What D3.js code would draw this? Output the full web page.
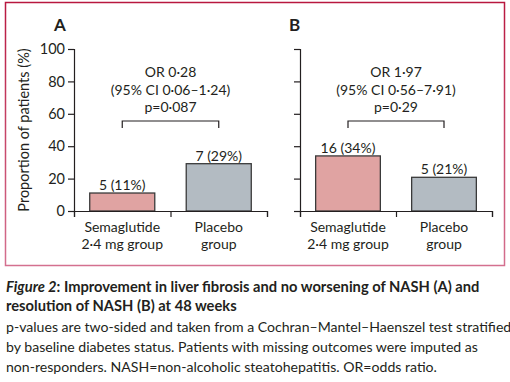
<!DOCTYPE html>
<html><head><meta charset="utf-8">
<script src="https://cdn.jsdelivr.net/npm/d3@7"></script>
<style>
html,body{margin:0;padding:0;background:#fff;}
svg{display:block;}
text{font-family:Lato,"Open Sans",sans-serif;fill:#231f20;}
</style></head>
<body>
<script>
// ---- data ----
const categories = ["Semaglutide 2·4 mg group", "Placebo group"];
const categoryLines = [["Semaglutide", "2·4 mg group"], ["Placebo", "group"]];
const panelIds = ["A", "B"];
const valuesA = [11.1, 29.2];
const valuesB = [34.0, 20.8];
const barLabelsA = ["5 (11%)", "7 (29%)"];
const barLabelsB = ["16 (34%)", "5 (21%)"];
const statsA = ["OR 0·28", "(95% CI 0·06–1·24)", "p=0·087"];
const statsB = ["OR 1·97", "(95% CI 0·56–7·91)", "p=0·29"];
const yTicks = [0, 20, 40, 60, 80, 100];
const yTitle = "Proportion of patients (%)";
const captionTitleItalic = "Figure 2";
const captionTitle = [": Improvement in liver fibrosis and no worsening of NASH (A) and", "resolution of NASH (B) at 48 weeks"];
const captionBody = [
  "p-values are two-sided and taken from a Cochran–Mantel–Haenszel test stratified",
  "by baseline diabetes status. Patients with missing outcomes were imputed as",
  "non-responders. NASH=non-alcoholic steatohepatitis. OR=odds ratio."
];

const colors = ["#e0a3a2", "#b3bbc2"];
const W = 510, H = 382;
const svg = d3.select("body").append("svg").attr("width", W).attr("height", H);

const defs = svg.append("defs");
const grad = defs.append("linearGradient").attr("id", "bd").attr("x1", 0).attr("y1", 0).attr("x2", 0).attr("y2", 1);
grad.append("stop").attr("offset", "0%").attr("stop-color", "#b8173f");
grad.append("stop").attr("offset", "100%").attr("stop-color", "#d4708f");

svg.append("rect").attr("x", 5.5).attr("y", 2.5).attr("width", 499).attr("height", 263)
  .attr("fill", "none").attr("stroke", "url(#bd)").attr("stroke-width", 1.5);

const y = d3.scaleLinear().domain([0, 100]).range([211, 49]);

const panels = [
  {id: panelIds[0], x0: 74, x1: 267, values: valuesA, labels: barLabelsA, stats: statsA, showY: true, idX: 54},
  {id: panelIds[1], x0: 300, x1: 492, values: valuesB, labels: barLabelsB, stats: statsB, showY: false, idX: 289}
];

panels.forEach(p => {
  const g = svg.append("g");
  const x = d3.scaleBand().domain(categories).range([p.x0, p.x1]).paddingInner(0.326).paddingOuter(0.163);
  const xb = d3.scaleLinear().domain([0, 2]).range([p.x0, p.x1]);

  // panel letter
  g.append("text").attr("x", p.idX).attr("y", 31).attr("font-weight", "bold").attr("font-size", 17).text(p.id);

  // bars
  g.selectAll("rect.bar").data(p.values).join("rect").attr("class", "bar")
    .attr("x", (d, i) => x(categories[i])).attr("width", x.bandwidth())
    .attr("y", d => y(d)).attr("height", d => y(0) - y(d))
    .attr("fill", (d, i) => colors[i]).attr("stroke", "#3a3a3a").attr("stroke-width", 1.3);

  // bar labels
  g.selectAll("text.bl").data(p.values).join("text").attr("class", "bl")
    .attr("x", (d, i) => x(categories[i]) + x.bandwidth() / 2).attr("y", d => y(d) - 3)
    .attr("text-anchor", "middle").attr("font-size", 14).text((d, i) => p.labels[i]);

  // y axis
  const ya = d3.axisLeft(y).tickValues(yTicks).tickSize(6).tickSizeOuter(6).tickPadding(3)
    .tickFormat(p.showY ? d3.format("d") : () => "");
  const yg = g.append("g").attr("transform", `translate(${p.x0},0)`).call(ya);
  yg.select(".domain").attr("stroke", "#231f20").attr("stroke-width", 1.2);
  yg.selectAll(".tick line").attr("stroke", "#231f20").attr("stroke-width", 1.2);
  yg.selectAll(".tick text").attr("font-size", 14.5).attr("font-family", "Lato").attr("fill", "#231f20");

  // x axis (boundary ticks)
  const xa = d3.axisBottom(xb).tickValues([0, 1, 2]).tickSize(6).tickSizeOuter(6).tickFormat(() => "");
  const xg = g.append("g").attr("transform", `translate(0,${y(0)})`).call(xa);
  xg.select(".domain").attr("stroke", "#231f20").attr("stroke-width", 1.2);
  xg.selectAll(".tick line").attr("stroke", "#231f20").attr("stroke-width", 1.2);

  // category labels
  categories.forEach((c, i) => {
    const t = g.append("text").attr("text-anchor", "middle").attr("font-size", 14)
      .attr("x", x(c) + x.bandwidth() / 2).attr("y", 232);
    categoryLines[i].forEach((ln, k) => {
      t.append("tspan").attr("x", x(c) + x.bandwidth() / 2).attr("dy", k === 0 ? 0 : 16.5).text(ln);
    });
  });

  // bracket
  const cx0 = x(categories[0]) + x.bandwidth() / 2, cx1 = x(categories[1]) + x.bandwidth() / 2;
  const by = 121;
  g.append("path").attr("d", `M${cx0},${by + 7}V${by}H${cx1}V${by + 7}`)
    .attr("fill", "none").attr("stroke", "#231f20").attr("stroke-width", 1.2);

  // stats text
  const mid = (p.x0 + p.x1) / 2;
  p.stats.forEach((s, k) => {
    g.append("text").attr("x", mid).attr("y", 77 + k * 17.5).attr("text-anchor", "middle")
      .attr("font-size", 14).text(s);
  });
});

// y title
svg.append("text").attr("transform", `translate(29,${(y(0) + y(100)) / 2}) rotate(-90)`)
  .attr("text-anchor", "middle").attr("font-size", 14.5).text(yTitle);

// caption
const ct = svg.append("text").attr("x", 6).attr("y", 292).attr("font-size", 14.7).attr("font-weight", "bold");
ct.append("tspan").attr("font-style", "italic").text(captionTitleItalic);
ct.append("tspan").text(captionTitle[0]);
svg.append("text").attr("x", 6).attr("y", 311).attr("font-size", 14.7).attr("font-weight", "bold").text(captionTitle[1]);
captionBody.forEach((s, k) => {
  svg.append("text").attr("x", 6).attr("y", 332 + k * 20).attr("font-size", 14.1).text(s);
});
</script>
</body></html>
